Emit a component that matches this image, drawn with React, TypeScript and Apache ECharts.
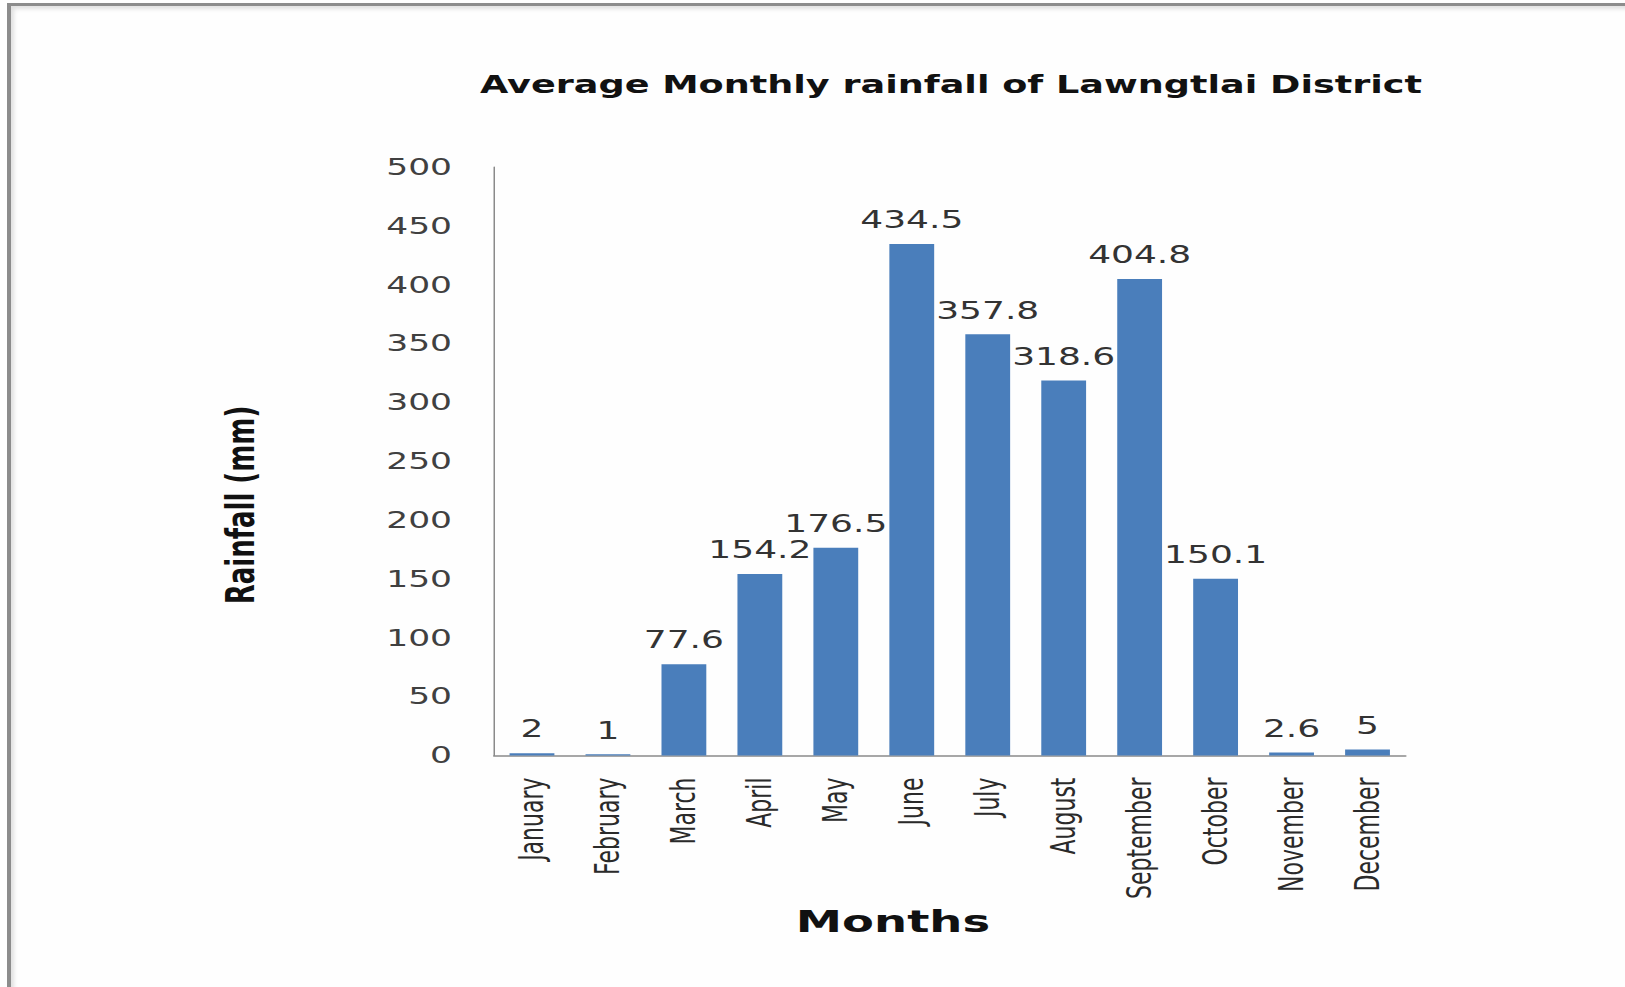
import React, { useEffect, useRef } from "react";
import * as echarts from "echarts";

const months = [
  "January", "February", "March", "April", "May", "June",
  "July", "August", "September", "October", "November", "December",
];
const rainfall = [2, 1, 77.6, 154.2, 176.5, 434.5, 357.8, 318.6, 404.8, 150.1, 2.6, 5];
const yMin = 0;
const yMax = 500;
const yInterval = 50;
const titleText = "Average Monthly rainfall of Lawngtlai District";
const xName = "Months";
const yName = "Rainfall (mm)";

const SX = 1.5;
const FULL_W = 1625;
const FULL_H = 987;
const W = FULL_W / SX;

export default function App() {
  const ref = useRef<HTMLDivElement>(null);
  useEffect(() => {
    if (!ref.current) return;
    const chart = echarts.init(ref.current, undefined, { renderer: "svg" });
    chart.setOption({
      animation: false,
      backgroundColor: "#fefefe",
      grid: {
        left: 494 / SX,
        right: W - 1406 / SX,
        top: 167,
        bottom: FULL_H - 755.5,
        containLabel: false,
      },
      xAxis: {
        type: "category",
        data: months,
        axisLine: { show: true, lineStyle: { color: "#8a8a8a", width: 1.5 } },
        axisTick: { show: false },
        axisLabel: {
          interval: 0,
          rotate: 90,
          margin: 22,
          fontSize: 22,
          fontFamily: "DejaVu Sans",
          color: "#2a2a2a",
        },
      },
      yAxis: {
        type: "value",
        min: yMin,
        max: yMax,
        interval: yInterval,
        splitLine: { show: false },
        axisLine: { show: true, lineStyle: { color: "#8a8a8a", width: 1 } },
        axisTick: { show: false },
        axisLabel: {
          margin: 28,
          fontSize: 23,
          fontFamily: "DejaVu Sans",
          color: "#404040",
        },
      },
      series: [
        {
          type: "bar",
          data: rainfall,
          barWidth: "59%",
          itemStyle: { color: "#4a7ebb" },
          label: {
            show: true,
            position: "top",
            distance: 12,
            fontSize: 24,
            fontFamily: "DejaVu Sans",
            color: "#333333",
          },
        },
      ],
      graphic: [
        {
          type: "text",
          x: 951 / SX,
          y: 84,
          style: {
            text: titleText,
            font: 'bold 24.4px "DejaVu Sans"',
            fill: "#111111",
            textAlign: "center",
            textVerticalAlign: "middle",
            align: "center",
            verticalAlign: "middle",
          },
        },
        {
          type: "text",
          x: 893 / SX,
          y: 921,
          style: {
            text: xName,
            font: 'bold 31px "DejaVu Sans"',
            fill: "#111111",
            textAlign: "center",
            textVerticalAlign: "middle",
            align: "center",
            verticalAlign: "middle",
          },
        },
        {
          type: "text",
          x: 240 / SX,
          y: 505,
          rotation: Math.PI / 2,
          style: {
            text: yName,
            font: 'bold 26px "DejaVu Sans"',
            fill: "#111111",
            textAlign: "center",
            textVerticalAlign: "middle",
            align: "center",
            verticalAlign: "middle",
          },
        },
      ],
    });
    return () => chart.dispose();
  }, []);

  return (
    <div
      style={{
        position: "fixed",
        left: 0,
        top: 0,
        width: FULL_W,
        height: FULL_H,
        overflow: "hidden",
        background: "#fefefe",
      }}
    >
      <div
        ref={ref}
        style={{
          position: "absolute",
          left: 0,
          top: 0,
          width: W,
          height: FULL_H,
          transform: `scaleX(${SX})`,
          transformOrigin: "0 0",
        }}
      />
      <div
        style={{
          position: "absolute",
          left: 7,
          top: 3,
          width: FULL_W + 50,
          height: FULL_H + 50,
          borderTop: "3px solid #8c8c8c",
          borderLeft: "4px solid #8c8c8c",
          boxShadow: "inset 3px 3px 4px rgba(0,0,0,0.12)",
          pointerEvents: "none",
        }}
      />
    </div>
  );
}
